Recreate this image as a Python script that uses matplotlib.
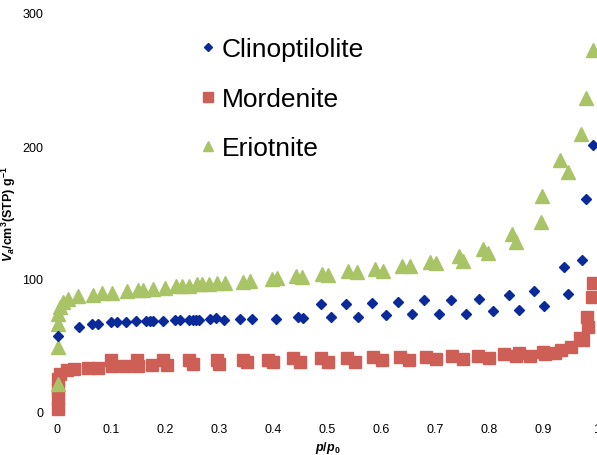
import matplotlib
matplotlib.use('Agg')
import matplotlib.pyplot as plt

plt.rcParams['font.family'] = ['Liberation Sans', 'DejaVu Sans']
plt.rcParams['mathtext.fontset'] = 'custom'
plt.rcParams['mathtext.rm'] = 'Liberation Sans:bold'
plt.rcParams['mathtext.it'] = 'Liberation Sans:bold:italic'
plt.rcParams['mathtext.bf'] = 'Liberation Sans:bold'

# 클리놉틸로라이트
clino_p = [0.002, 0.041, 0.065, 0.076, 0.100, 0.111, 0.128, 0.146, 0.165, 0.172,
           0.178, 0.196, 0.219, 0.228, 0.244, 0.252, 0.257, 0.263, 0.283, 0.294,
           0.309, 0.339, 0.361, 0.406, 0.446, 0.456, 0.489, 0.507, 0.535, 0.557,
           0.583, 0.609, 0.631, 0.657, 0.680, 0.707, 0.730, 0.757, 0.781, 0.807,
           0.837, 0.856, 0.883, 0.902, 0.939, 0.946, 0.972, 0.980, 0.993]
clino_v = [57.1, 63.9, 66.2, 66.2, 67.7, 67.7, 67.7, 68.4, 68.4, 68.4,
           68.4, 68.4, 69.2, 69.2, 69.2, 69.2, 69.2, 69.2, 69.9, 70.7,
           69.2, 69.9, 69.9, 69.9, 71.4, 70.7, 81.2, 71.4, 81.2, 71.4,
           82.0, 72.9, 82.7, 73.7, 84.2, 73.7, 84.2, 73.7, 85.0, 75.9,
           88.0, 76.7, 91.0, 79.7, 109.0, 88.7, 114.3, 160.2, 200.8]

# 모데나이트
mord_p = [0.001, 0.001, 0.002, 0.002, 0.005, 0.019, 0.031, 0.057, 0.076, 0.100,
          0.102, 0.126, 0.148, 0.150, 0.176, 0.196, 0.204, 0.244, 0.252, 0.296,
          0.300, 0.344, 0.352, 0.391, 0.400, 0.437, 0.450, 0.489, 0.502, 0.537,
          0.552, 0.585, 0.602, 0.635, 0.652, 0.683, 0.702, 0.731, 0.752, 0.780,
          0.800, 0.828, 0.850, 0.856, 0.876, 0.900, 0.904, 0.922, 0.933, 0.952,
          0.969, 0.974, 0.981, 0.983, 0.991, 0.993]
mord_v = [2.3, 9.8, 17.3, 24.8, 28.6, 31.6, 32.3, 33.1, 33.1, 39.1,
          34.6, 34.6, 39.1, 34.6, 35.3, 39.1, 35.3, 39.1, 36.1, 39.1,
          36.1, 39.1, 37.6, 39.1, 37.6, 40.6, 37.6, 40.6, 37.6, 40.6,
          37.6, 41.4, 39.1, 41.4, 39.1, 41.4, 39.8, 42.1, 39.8, 42.1,
          40.6, 43.6, 42.1, 44.4, 42.1, 45.1, 43.6, 44.4, 46.6, 48.9,
          55.6, 54.1, 71.4, 63.9, 86.5, 97.0]

# 에리오나이트
erio_p = [0.002, 0.002, 0.002, 0.002, 0.006, 0.011, 0.020, 0.039, 0.067, 0.083,
          0.102, 0.130, 0.150, 0.159, 0.178, 0.200, 0.220, 0.231, 0.244, 0.259,
          0.269, 0.281, 0.296, 0.311, 0.344, 0.357, 0.398, 0.407, 0.443, 0.454,
          0.491, 0.502, 0.539, 0.556, 0.589, 0.604, 0.639, 0.654, 0.691, 0.702,
          0.744, 0.752, 0.789, 0.798, 0.843, 0.850, 0.896, 0.898, 0.931, 0.946,
          0.970, 0.980, 0.993]
erio_v = [21.1, 48.9, 66.2, 73.7, 78.9, 82.7, 85.0, 87.2, 88.0, 89.5,
          89.5, 91.0, 91.7, 91.7, 92.5, 93.2, 94.7, 94.7, 94.7, 96.2,
          96.2, 96.2, 97.0, 97.0, 97.7, 98.5, 100.0, 100.8, 102.3, 101.5,
          103.8, 103.0, 106.0, 105.3, 107.5, 106.0, 109.8, 109.8, 112.8, 112.0,
          117.3, 113.5, 122.6, 119.5, 133.8, 127.8, 142.9, 162.4, 189.5, 180.5,
          209.0, 236.1, 272.2]

fig = plt.figure(figsize=(5.97, 4.56), dpi=100)
ax = fig.add_axes([57 / 597, 43 / 456, 540 / 597, 399 / 456])

ax.plot(mord_p, mord_v, linestyle='none', marker='s', markersize=9,
        color='#cd5f57', label='Mordenite', clip_on=False)
ax.plot(erio_p, erio_v, linestyle='none', marker='^', markersize=10,
        color='#a9c467', label='Eriotnite', clip_on=False)
ax.plot(clino_p, clino_v, linestyle='none', marker='D', markersize=5,
        color='#0b2a99', label='Clinoptilolite', clip_on=False)

ax.set_xlim(0, 1)
ax.set_ylim(0, 300)
ax.set_xticks([0, 0.1, 0.2, 0.3, 0.4, 0.5, 0.6, 0.7, 0.8, 0.9, 1])
ax.set_xticklabels(['0', '0.1', '0.2', '0.3', '0.4', '0.5', '0.6', '0.7', '0.8', '0.9', '1'])
ax.set_yticks([0, 100, 200, 300])
ax.tick_params(length=0, labelsize=9, pad=8)
ax.tick_params(axis='y', pad=10)
for s in ax.spines.values():
    s.set_visible(False)

ax.set_xlabel(r'$p/p_0$', fontsize=9)
ax.xaxis.set_label_coords((328 - 57) / 540, -0.068)
ax.set_ylabel(r'$V_a$/cm$^3$(STP) g$^{-1}$', fontsize=9, fontweight='bold')
ax.yaxis.set_label_coords(-0.072, 0.5)

handles, labels = ax.get_legend_handles_labels()
order = [2, 0, 1]
ax.legend([handles[i] for i in order], [labels[i] for i in order],
          loc='upper left', bbox_to_anchor=(186 / 597, 1 - 25 / 456),
          bbox_transform=fig.transFigure, frameon=False, fontsize=19,
          labelspacing=0.97, handlelength=0.7, handletextpad=0.15,
          markerscale=0.75, borderpad=0)

plt.savefig('out.png', dpi=100)
